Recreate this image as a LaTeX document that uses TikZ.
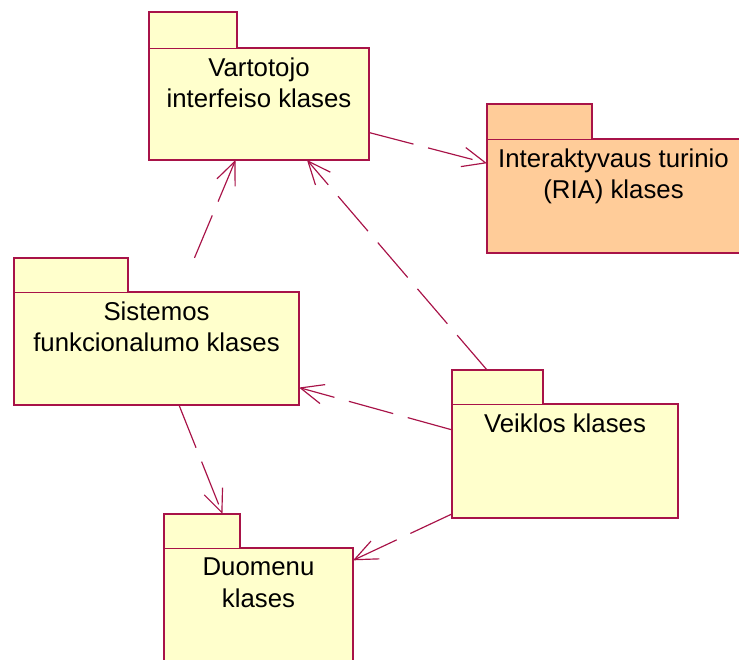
\documentclass[tikz,border=0pt]{standalone}
\usepackage{fontspec}
\setmainfont{Liberation Sans}
\usetikzlibrary{positioning,arrows.meta}
\definecolor{pkgline}{RGB}{168,19,72}
\definecolor{pkgyellow}{RGB}{255,255,204}
\definecolor{pkgorange}{RGB}{255,204,153}

\begin{document}
\begin{tikzpicture}[
  pkgbody/.style={draw=pkgline, line width=1pt, fill=pkgyellow, anchor=north west, inner sep=0pt, outer sep=0pt},
  pkgtab/.style={fill=pkgyellow, anchor=south west, inner sep=0pt, outer sep=0pt},
  tabedge/.style={draw=pkgline, line width=1pt},
  pkgname/.style={align=center, inner sep=0pt, font=\fontsize{22}{26.5}\selectfont},
  dep/.style={draw=pkgline, line width=1pt, dash pattern=on 1.38cm off 0.45cm, -{Straight Barb[length=0.69cm,width=0.59cm]}}
]
\useasboundingbox (0,0) rectangle (22.17,19.77);
% Vartotojo interfeiso klases
\node[pkgbody, minimum width=6.6cm, minimum height=3.36cm] (vuib) at (4.47,18.33) {};
\node[pkgtab, minimum width=2.64cm, minimum height=1.08cm] (vuit) at (vuib.north west) {};
\draw[tabedge] (vuit.south west) -- (vuit.north west) -- (vuit.north east) -- (vuit.south east);
\node[pkgname, below=0.3cm of vuib.north] (vuil) {Vartotojo\\interfeiso klases};
% Interaktyvaus turinio (RIA) klases
\node[pkgbody, fill=pkgorange, minimum width=7.59cm, minimum height=3.42cm] (riab) at (14.61,15.6) {};
\node[pkgtab, fill=pkgorange, minimum width=3.15cm, minimum height=1.05cm] (riat) at (riab.north west) {};
\draw[tabedge] (riat.south west) -- (riat.north west) -- (riat.north east) -- (riat.south east);
\node[pkgname, below=0.3cm of riab.north] (rial) {Interaktyvaus turinio\\(RIA) klases};
% Sistemos funkcionalumo klases
\node[pkgbody, minimum width=8.55cm, minimum height=3.39cm] (sisb) at (0.42,11.01) {};
\node[pkgtab, minimum width=3.42cm, minimum height=1.02cm] (sist) at (sisb.north west) {};
\draw[tabedge] (sist.south west) -- (sist.north west) -- (sist.north east) -- (sist.south east);
\node[pkgname, below=0.3cm of sisb.north] (sisl) {Sistemos\\funkcionalumo klases};
% Veiklos klases
\node[pkgbody, minimum width=6.78cm, minimum height=3.42cm] (vklb) at (13.56,7.65) {};
\node[pkgtab, minimum width=2.73cm, minimum height=1.02cm] (vklt) at (vklb.north west) {};
\draw[tabedge] (vklt.south west) -- (vklt.north west) -- (vklt.north east) -- (vklt.south east);
\node[pkgname, below=0.3cm of vklb.north] (vkll) {Veiklos klases};
% Duomenu klases
\node[pkgbody, minimum width=5.67cm, minimum height=3.39cm] (duob) at (4.92,3.33) {};
\node[pkgtab, minimum width=2.28cm, minimum height=1.02cm] (duot) at (duob.north west) {};
\draw[tabedge] (duot.south west) -- (duot.north west) -- (duot.north east) -- (duot.south east);
\node[pkgname, below=0.3cm of duob.north] (duol) {Duomenu\\klases};
% priklausomybes
\draw[dep] (vuib) -- (riab);
\draw[dep, shorten <=1.11cm] (sisb) -- (vuib);
\draw[dep, shorten <=1.34cm] (vklb) -- (vuib);
\draw[dep] (vklb) -- (sisb);
\draw[dep, shorten >=1.10cm] (sisb) -- (duob);
\draw[dep] (vklb) -- (duob);
\end{tikzpicture}
\end{document}
